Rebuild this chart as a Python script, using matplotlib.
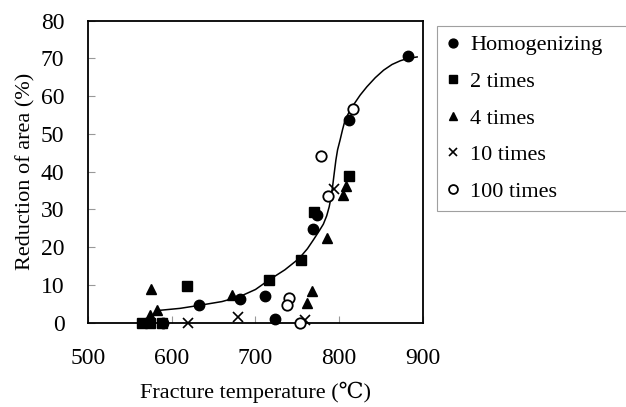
import matplotlib
matplotlib.use("Agg")
import matplotlib.pyplot as plt

# Data
hom_x = [882, 812, 773, 769, 633, 682, 711, 723, 590]
hom_y = [70.6, 53.7, 28.5, 24.7, 4.6, 6.3, 7.1, 0.9, 0.0]

t2_x = [812, 770, 754, 716, 618, 565, 574, 588]
t2_y = [38.8, 29.3, 16.7, 11.4, 9.6, 0.0, 0.0, 0.0]

t4_x = [575, 582, 574, 672, 785, 768, 762, 805, 808]
t4_y = [9.0, 3.4, 2.1, 7.4, 22.4, 8.5, 5.1, 33.8, 36.2]

t10_x = [619, 679, 759, 794]
t10_y = [0.0, 1.6, 0.7, 35.3]

t100_x = [816, 778, 786, 740, 738, 753]
t100_y = [56.5, 44.1, 33.5, 6.6, 4.7, 0.0]

curve_x = [582, 610, 633, 660, 681, 700, 716, 735, 752, 762, 769, 776, 781, 785,
           788, 790, 792, 794, 796, 798, 801, 804, 807, 812, 817, 825, 833, 843,
           853, 863, 873, 882, 893]
curve_y = [3.2, 3.8, 4.6, 5.6, 6.9, 8.8, 11.3, 14.0, 17.0, 19.6, 21.9, 24.3,
           26.1, 28.3, 30.7, 33.0, 36.0, 39.6, 43.1, 45.8, 48.4, 51.2, 53.7,
           55.9, 57.7, 60.3, 62.5, 64.9, 66.9, 68.4, 69.4, 70.0, 70.4]

labels = ["Homogenizing", "2 times", "4 times", "10 times", "100 times"]
x_ticks = [500, 600, 700, 800, 900]
y_ticks = [0, 10, 20, 30, 40, 50, 60, 70, 80]

plt.rcParams['font.family'] = ['Liberation Serif', 'DejaVu Serif']

fig = plt.figure(figsize=(6.26, 4.07), dpi=100)
ax = fig.add_axes([88 / 626, 1 - 322.7 / 407, (423 - 88) / 626, (322.7 - 20.7) / 407])

ax.plot(curve_x, curve_y, color='black', lw=1.1, zorder=2)

ms = 7.5
h1, = ax.plot(hom_x, hom_y, 'o', color='black', ms=ms, ls='none', clip_on=False, zorder=3)
h2, = ax.plot(t2_x, t2_y, 's', color='black', ms=ms - 0.5, ls='none', clip_on=False, zorder=3)
h3, = ax.plot(t4_x, t4_y, '^', color='black', ms=ms, ls='none', clip_on=False, zorder=3)
h4, = ax.plot(t10_x, t10_y, 'x', color='black', ms=ms - 0.5, mew=1.2, ls='none', clip_on=False, zorder=3)
h5, = ax.plot(t100_x, t100_y, 'o', mfc='white', mec='black', mew=1.3, ms=ms,
              ls='none', clip_on=False, zorder=3)

ax.set_xlim(500, 900)
ax.set_ylim(0, 80)
ax.set_xticks(x_ticks)
ax.set_yticks(y_ticks)
ax.tick_params(axis='both', direction='in', length=5, width=0.8, color='#999999',
               labelsize=17)
ax.tick_params(axis='x', pad=18)
ax.tick_params(axis='y', pad=17)
for s in ax.spines.values():
    s.set_linewidth(1.3)
    s.set_color('black')

ax.set_xlabel("Fracture temperature (℃)", fontsize=16, labelpad=9)
ax.set_ylabel("Reduction of area (%)", fontsize=16, labelpad=4)

leg = fig.legend([h1, h2, h3, h4, h5], labels, loc='upper left',
                 bbox_to_anchor=(437 / 626, 1 - 26 / 407, (650 - 437) / 626, 0),
                 mode='expand', borderaxespad=0,
                 fontsize=16, frameon=True, fancybox=False, edgecolor='#888888',
                 handlelength=0.6, handletextpad=0.5, labelspacing=0.72,
                 borderpad=0.4, markerscale=0.85)
leg.get_frame().set_linewidth(0.8)

fig.savefig("out.png", dpi=100)
